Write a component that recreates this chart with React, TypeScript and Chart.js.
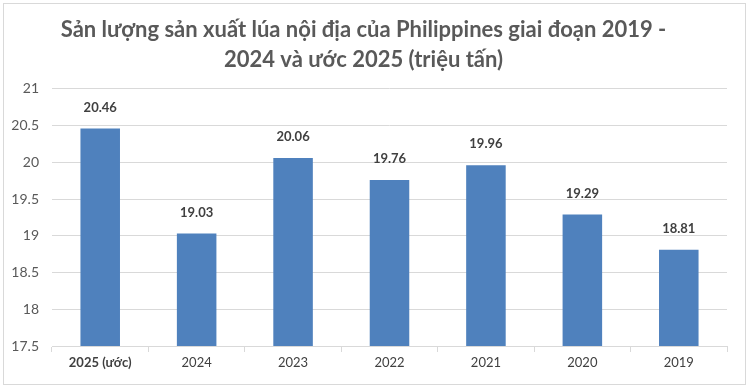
import React, { useEffect, useRef } from "react";
import { Chart, registerables } from "chart.js";

Chart.register(...registerables);

const categories = ["2025 (ước)", "2024", "2023", "2022", "2021", "2020", "2019"];
const values = [20.46, 19.03, 20.06, 19.76, 19.96, 19.29, 18.81];
const titleLines = [
  "Sản lượng sản xuất lúa nội địa của Philippines giai đoạn 2019 -",
  "2024 và ước 2025 (triệu tấn)",
];
const yMin = 17.5;
const yMax = 21;
const yStep = 0.5;

const FONT = "Lato, 'Open Sans', sans-serif";

const borderPlugin = {
  id: "outerBorder",
  beforeDraw(chart: any) {
    const ctx = chart.ctx;
    ctx.save();
    ctx.fillStyle = "#ffffff";
    ctx.fillRect(0, 0, chart.width, chart.height);
    ctx.strokeStyle = "#d9d9d9";
    ctx.lineWidth = 1;
    ctx.strokeRect(3.5, 3.5, chart.width - 7, chart.height - 6);
    ctx.restore();
  },
};

const labelPlugin = {
  id: "valueLabels",
  afterDatasetsDraw(chart: any) {
    const ctx = chart.ctx;
    const meta = chart.getDatasetMeta(0);
    const data = chart.data.datasets[0].data;
    ctx.save();
    ctx.font = `bold 13px ${FONT}`;
    ctx.fillStyle = "#404040";
    ctx.textAlign = "center";
    ctx.textBaseline = "middle";
    meta.data.forEach((bar: any, i: number) => {
      ctx.fillText(Number(data[i]).toFixed(2), bar.x, bar.y - 21);
    });
    ctx.restore();
  },
};

export default function App() {
  const ref = useRef<HTMLCanvasElement>(null);
  useEffect(() => {
    document.body.style.margin = "0";
    const chart = new Chart(ref.current!, {
      type: "bar",
      data: {
        labels: categories,
        datasets: [
          {
            data: values,
            backgroundColor: "#4f81bd",
            barPercentage: 0.41,
            categoryPercentage: 1,
          },
        ],
      },
      options: {
        animation: false,
        responsive: false,
        devicePixelRatio: 1,
        layout: { padding: { left: 0, right: 22, top: 0, bottom: 0 } },
        plugins: {
          legend: { display: false },
          tooltip: { enabled: false },
          title: {
            display: true,
            text: titleLines,
            color: "#595959",
            font: { family: FONT, size: 22, weight: "bold", lineHeight: 1.36 },
            padding: { top: 15, bottom: 14 },
          },
        },
        scales: {
          x: {
            grid: {
              display: true,
              drawOnChartArea: false,
              drawTicks: true,
              tickLength: 6,
              color: "#d9d9d9",
              offset: true,
            },
            border: { display: true, color: "#d9d9d9" },
            ticks: {
              color: "#404040",
              padding: 3,
              font: (ctx: any) => ({
                family: FONT,
                size: 13,
                weight: ctx.index === 0 ? "bold" : "normal",
              }),
            },
            afterFit: (scale: any) => {
              scale.height = 41;
            },
          },
          y: {
            min: yMin,
            max: yMax,
            grid: { color: "#d9d9d9", drawTicks: false },
            border: { display: false },
            ticks: {
              stepSize: yStep,
              color: "#595959",
              padding: 13,
              font: { family: FONT, size: 14 },
              callback: (v: any) => String(Number(v)),
            },
            afterFit: (scale: any) => {
              scale.width = 52;
            },
          },
        },
      },
      plugins: [borderPlugin, labelPlugin],
    });
    return () => chart.destroy();
  }, []);
  return (
    <canvas
      ref={ref}
      width={749}
      height={387}
      style={{ position: "fixed", left: 0, top: 0, width: 749, height: 387 }}
    />
  );
}
